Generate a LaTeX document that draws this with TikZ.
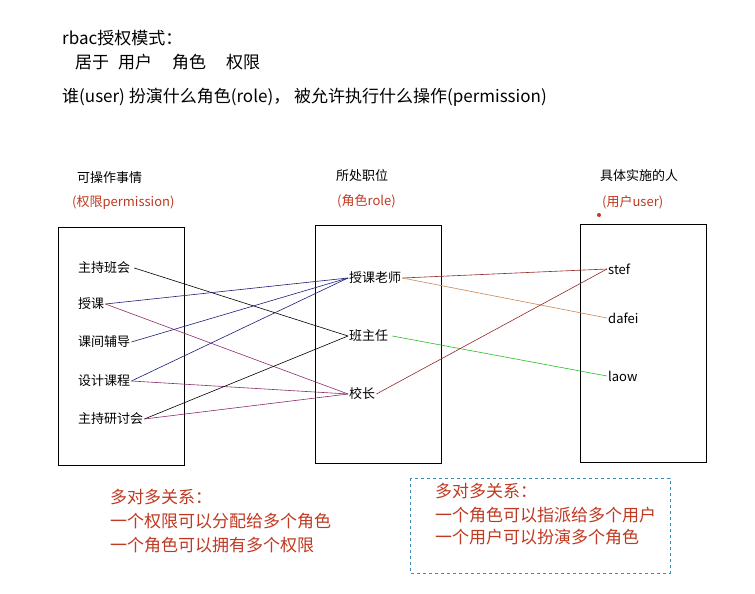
\documentclass[tikz,border=0pt]{standalone}
\usepackage{fontspec}
\setmainfont{Noto Sans CJK SC}
\definecolor{notered}{RGB}{192,57,33}
\definecolor{linknavy}{RGB}{30,30,120}
\definecolor{linkpurple}{RGB}{140,45,110}
\definecolor{linkred}{RGB}{150,40,40}
\definecolor{linkorange}{RGB}{205,135,80}
\definecolor{linkgreen}{RGB}{40,190,40}
\definecolor{frameblue}{RGB}{60,140,190}
\tikzset{
  item/.style={anchor=west,inner sep=1pt,font=\fontsize{13}{13}\selectfont},
  head/.style={anchor=west,inner sep=0pt,font=\fontsize{13}{13}\selectfont},
  note/.style={anchor=west,inner sep=0pt,text=notered,font=\fontsize{17}{17}\selectfont},
  title/.style={anchor=west,inner sep=0pt,font=\fontsize{17}{17}\selectfont},
  column/.style={draw,line width=0.6pt},
  link/.style={line width=0.6pt},
}
\begin{document}
\begin{tikzpicture}[x=1pt,y=-1pt]
\useasboundingbox (0,0) rectangle (755,594);
\fill[white] (0,0) rectangle (755,594);

\node (title) at (62,38) [title] {rbac授权模式：};
\node (words) at (75,62) [title] {居于\hspace{9pt}用户\hspace{20pt}角色\hspace{20pt}权限};
\node (who) at (62,97) [title] {谁(user) 扮演什么角色(role)， 被允许执行什么操作(permission)};

% the three columns
\draw[column] (58,227) rectangle (184,465);
\draw[column] (315,225) rectangle (441,463);
\draw[column] (580,224) rectangle (706,462);

\node (permhead) at (77,178) [head] {可操作事情};
\node (permtag) at (72,203) [head,text=notered] {(权限permission)};
\node (rolehead) at (336,176) [head] {所处职位};
\node (roletag) at (337,201) [head,text=notered] {(角色role)};
\node (userhead) at (600,176) [head] {具体实施的人};
\node (usertag) at (602,202) [head,text=notered] {(用户user)};
\fill[notered] (599,215) circle (2);

% permissions
\node (meeting) at (77,268) [item] {主持班会~~};
\node (teach) at (77,304) [item] {授课};
\node (tutor) at (77,342) [item] {课间辅导};
\node (design) at (77,381) [item] {设计课程};
\node (seminar) at (77,419) [item] {主持研讨会};

% roles
\node (teacher) at (348,278) [item] {授课老师};
\node (head) at (348,336) [item] {班主任~~};
\node (principal) at (348,394) [item] {校长};

% users
\node (stef) at (607,269) [item] {stef};
\node (dafei) at (607,318) [item] {dafei};
\node (laow) at (607,376) [item] {laow};

\draw[link] (meeting.east) -- (head.west);
\draw[link,linknavy] (teach.east) -- (teacher.west);
\draw[link,linkpurple] (teach.east) -- (principal.west);
\draw[link,linknavy] (tutor.east) -- (teacher.west);
\draw[link,linknavy] (design.east) -- (teacher.west);
\draw[link,linkpurple] (design.east) -- (principal.west);
\draw[link] (seminar.east) -- (head.west);
\draw[link,linkpurple] (seminar.east) -- (principal.west);

\draw[link,linkred] (teacher.east) -- (stef.west);
\draw[link,linkorange] (teacher.east) -- (dafei.west);
\draw[link,linkgreen] (head.east) -- (laow.west);
\draw[link,linkred] (principal.east) -- (stef.west);

% many-to-many notes
\node (leftnote) at (110,497) [note] {多对多关系：};
\node (leftone) at (110,521) [note] {一个权限可以分配给多个角色};
\node (lefttwo) at (110,545) [note] {一个角色可以拥有多个权限};

\draw[frameblue,dashed] (410,478) rectangle (670,573);
\node (rightnote) at (435,491) [note] {多对多关系：};
\node (rightone) at (435,515) [note] {一个角色可以指派给多个用户};
\node (righttwo) at (435,537) [note] {一个用户可以扮演多个角色};
\end{tikzpicture}
\end{document}
